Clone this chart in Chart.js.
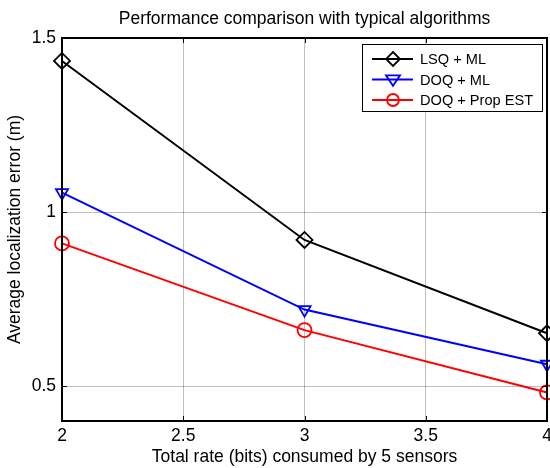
<!DOCTYPE html>
<html lang="en">
<head>
<meta charset="UTF-8">
<title>Performance comparison</title>
<script src="https://cdn.jsdelivr.net/npm/chart.js@4.4.0/dist/chart.umd.min.js"></script>
<style>
  html, body { margin: 0; padding: 0; background: #fff; }
  #wrap { width: 550px; height: 468px; }
</style>
</head>
<body>
<div id="wrap"><canvas id="micanvas"></canvas></div>
<script>
// data
const rates = [2, 3, 4];
const lsqMl = [1.434, 0.920, 0.652];
const doqMl = [1.056, 0.720, 0.563];
const doqProp = [0.910, 0.661, 0.482];
const xTicks = [2, 2.5, 3, 3.5, 4];
const yTicks = [0.5, 1, 1.5];
const seriesNames = ['LSQ + ML', 'DOQ + ML', 'DOQ + Prop EST'];
const chartTitle = 'Performance comparison with typical algorithms';

const FONT = 'Arial, "Liberation Sans", sans-serif';
const FS = 17.5;

function pts(ys) { return rates.map((x, i) => ({ x: x, y: ys[i] })); }

// title over the axes, frame, inward ticks and the boxed legend, matlab style
const matlabBits = {
  id: 'matlabBits',
  afterDraw(chart) {
    const ctx = chart.ctx, a = chart.chartArea;
    const xs = chart.scales.x, ys = chart.scales.y;
    ctx.save();
    ctx.fillStyle = '#000';
    ctx.font = FS + 'px ' + FONT;
    ctx.textAlign = 'center';
    ctx.textBaseline = 'middle';
    ctx.fillText(chartTitle, (a.left + a.right) / 2, 19);
    ctx.textAlign = 'left';

    ctx.strokeStyle = '#000';
    ctx.lineWidth = 1;
    xTicks.forEach(v => {
      const px = Math.round(xs.getPixelForValue(v)) + 0.5;
      ctx.beginPath();
      ctx.moveTo(px, a.bottom); ctx.lineTo(px, a.bottom - 5);
      ctx.moveTo(px, a.top); ctx.lineTo(px, a.top + 5);
      ctx.stroke();
    });
    yTicks.forEach(v => {
      const py = Math.round(ys.getPixelForValue(v)) + 0.5;
      ctx.beginPath();
      ctx.moveTo(a.left, py); ctx.lineTo(a.left + 5, py);
      ctx.moveTo(a.right, py); ctx.lineTo(a.right - 5, py);
      ctx.stroke();
    });
    ctx.lineWidth = 2;
    ctx.strokeRect(a.left, a.top, a.right - a.left, a.bottom - a.top);

    // legend
    const lx = 362, ly = 44, lw = 180, lh = 67;
    ctx.fillStyle = '#fff';
    ctx.fillRect(lx, ly, lw, lh);
    ctx.lineWidth = 1;
    ctx.strokeRect(lx + 0.5, ly + 0.5, lw, lh);
    ctx.font = '14.6px ' + FONT;
    chart.data.datasets.forEach((ds, i) => {
      const cy = ly + 15 + i * 20.5;
      ctx.strokeStyle = ds.borderColor;
      ctx.lineWidth = 2;
      ctx.beginPath();
      ctx.moveTo(lx + 10, cy); ctx.lineTo(lx + 51, cy);
      ctx.stroke();
      ctx.lineWidth = 1.8;
      const mx = lx + 31, r = 7;
      ctx.beginPath();
      if (ds.pointStyle === 'rectRot') {
        ctx.moveTo(mx, cy - r); ctx.lineTo(mx + r, cy); ctx.lineTo(mx, cy + r); ctx.lineTo(mx - r, cy); ctx.closePath();
      } else if (ds.pointStyle === 'triangle') {
        ctx.moveTo(mx - r, cy - r * 0.6); ctx.lineTo(mx + r, cy - r * 0.6); ctx.lineTo(mx, cy + r * 0.9); ctx.closePath();
      } else {
        ctx.arc(mx, cy, 6, 0, Math.PI * 2);
      }
      ctx.stroke();
      ctx.fillStyle = '#000';
      ctx.fillText(ds.label, lx + 58, cy + 1);
    });
    ctx.restore();
  }
};

const ctx = document.getElementById('micanvas').getContext('2d');
const chart = new Chart(ctx, {
  type: 'line',
  data: {
    datasets: [
      { label: seriesNames[0], data: pts(lsqMl), borderColor: '#000', pointStyle: 'rectRot', pointRadius: 8 },
      { label: seriesNames[1], data: pts(doqMl), borderColor: '#0000ff', pointStyle: 'triangle', pointRotation: 180, pointRadius: 7 },
      { label: seriesNames[2], data: pts(doqProp), borderColor: '#ff0000', pointStyle: 'circle', pointRadius: 7 }
    ].map(d => Object.assign(d, {
      borderWidth: 2,
      pointBorderWidth: 1.8,
      pointBorderColor: d.borderColor,
      pointBackgroundColor: 'rgba(0,0,0,0)',
      pointHoverRadius: d.pointRadius,
      tension: 0,
      clip: false
    }))
  },
  options: {
    responsive: true,
    maintainAspectRatio: false,
    animation: false,
    layout: { autoPadding: false, padding: { left: 0, right: 3, top: 38, bottom: 0 } },
    plugins: {
      legend: { display: false },
      tooltip: { enabled: false },
      title: { display: false }
    },
    scales: {
      x: {
        type: 'linear',
        min: 2, max: 4,
        afterBuildTicks: s => { s.ticks = xTicks.map(v => ({ value: v })); },
        afterFit: s => { s.height = 47; s.paddingRight = 0; s.paddingLeft = 0; },
        grid: { color: 'rgba(0,0,0,0.25)', lineWidth: 1, drawTicks: false },
        border: { display: false },
        ticks: { color: '#000', padding: 5, maxRotation: 0, callback: v => String(v), font: { family: FONT, size: FS } },
        title: { display: true, text: 'Total rate (bits) consumed by 5 sensors', color: '#000', padding: { top: 0, bottom: 0.5 }, font: { family: FONT, size: FS } }
      },
      y: {
        min: 0.4, max: 1.5,
        afterBuildTicks: s => { s.ticks = yTicks.map(v => ({ value: v })); },
        afterFit: s => { s.width = 62; s.paddingTop = 0; s.paddingBottom = 0; },
        grid: { color: 'rgba(0,0,0,0.25)', lineWidth: 1, drawTicks: false },
        border: { display: false },
        ticks: { color: '#000', padding: 6, callback: v => String(v), font: { family: FONT, size: FS } },
        title: { display: true, text: 'Average localization error (m)', color: '#000', padding: { top: 5, bottom: 0 }, font: { family: FONT, size: FS } }
      }
    }
  },
  plugins: [matlabBits]
});
</script>
</body>
</html>
